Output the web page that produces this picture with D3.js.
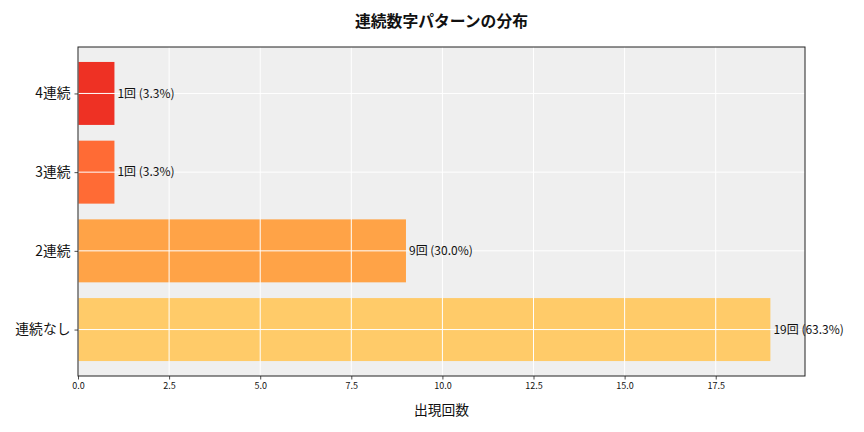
<!DOCTYPE html>
<html>
<head>
<meta charset="utf-8">
<script src="https://cdn.jsdelivr.net/npm/d3@7"></script>
<style>
  body { margin: 0; background: #fff; }
  svg text { font-family: "Noto Sans CJK JP", "Noto Sans", sans-serif; fill: #111; }
</style>
</head>
<body>
<div id="chart"></div>
<script>
// data
const categories = ["連続なし", "2連続", "3連続", "4連続"];
const counts = [19, 9, 1, 1];
const percents = [63.3, 30.0, 3.3, 3.3];
const colors = ["#ffcb69", "#ffa347", "#ff6b35", "#ee3124"];
const xTicks = [0, 2.5, 5, 7.5, 10, 12.5, 15, 17.5];

// dimensions
const width = 864,
    height = 432,
    margin = { top: 47, right: 59, bottom: 56, left: 78 };

const svg = d3.select("#chart")
    .append("svg")
    .attr("width", width)
    .attr("height", height);

const plotW = width - margin.left - margin.right,
    plotH = height - margin.top - margin.bottom;

const g = svg.append("g")
    .attr("transform", `translate(${margin.left},${margin.top})`);

// scales
const x = d3.scaleLinear()
    .domain([0, d3.max(counts) * 1.05])
    .range([0, plotW]);

// category index -> y, matplotlib-like limits (-0.59 .. 3.59)
const y = d3.scaleLinear()
    .domain([-0.59, categories.length - 1 + 0.59])
    .range([plotH, 0]);
const barH = y(0) - y(0.8);

// background
g.append("rect")
    .attr("width", plotW)
    .attr("height", plotH)
    .attr("fill", "#efefef");

// bars
g.selectAll(".bar")
    .data(categories)
    .enter()
    .append("rect")
    .attr("class", "bar")
    .attr("x", x(0))
    .attr("y", (d, i) => y(i) - barH / 2)
    .attr("width", (d, i) => x(counts[i]) - x(0))
    .attr("height", barH)
    .attr("fill", (d, i) => colors[i]);

// grid on top
g.selectAll(".vgrid")
    .data(xTicks)
    .enter()
    .append("line")
    .attr("x1", d => x(d))
    .attr("x2", d => x(d))
    .attr("y1", 0)
    .attr("y2", plotH)
    .attr("stroke", "#fff")
    .attr("stroke-width", 1);

g.selectAll(".hgrid")
    .data(categories)
    .enter()
    .append("line")
    .attr("x1", 0)
    .attr("x2", plotW)
    .attr("y1", (d, i) => y(i))
    .attr("y2", (d, i) => y(i))
    .attr("stroke", "#fff")
    .attr("stroke-width", 1);

// value labels
g.selectAll(".val")
    .data(categories)
    .enter()
    .append("text")
    .attr("x", (d, i) => x(counts[i]) + 3)
    .attr("y", (d, i) => y(i))
    .attr("dy", "0.35em")
    .attr("font-size", 12)
    .text((d, i) => `${counts[i]}回 (${percents[i].toFixed(1)}%)`);

// axes
const xAxis = g.append("g")
    .attr("transform", `translate(0,${plotH})`)
    .call(d3.axisBottom(x).tickValues(xTicks).tickFormat(d3.format(".1f")).tickSize(3.5).tickPadding(3));
xAxis.selectAll("text").attr("font-size", 9);

const yAxis = g.append("g")
    .call(d3.axisLeft(y).tickValues(d3.range(categories.length)).tickFormat(i => categories[i]).tickSize(3.5).tickPadding(4));
yAxis.selectAll("text").attr("font-size", 13.8);

svg.selectAll(".domain").remove();
svg.selectAll(".tick line").attr("stroke", "#222").attr("stroke-width", 0.8);

// frame
g.append("rect")
    .attr("width", plotW)
    .attr("height", plotH)
    .attr("fill", "none")
    .attr("stroke", "#222")
    .attr("stroke-width", 1);

// title
svg.append("text")
    .attr("x", margin.left + plotW / 2)
    .attr("y", 27)
    .attr("text-anchor", "middle")
    .attr("font-size", 15.8)
    .attr("font-weight", "bold")
    .text("連続数字パターンの分布");

// x label
svg.append("text")
    .attr("x", margin.left + plotW / 2)
    .attr("y", 415)
    .attr("text-anchor", "middle")
    .attr("font-size", 13.8)
    .text("出現回数");
</script>
</body>
</html>
